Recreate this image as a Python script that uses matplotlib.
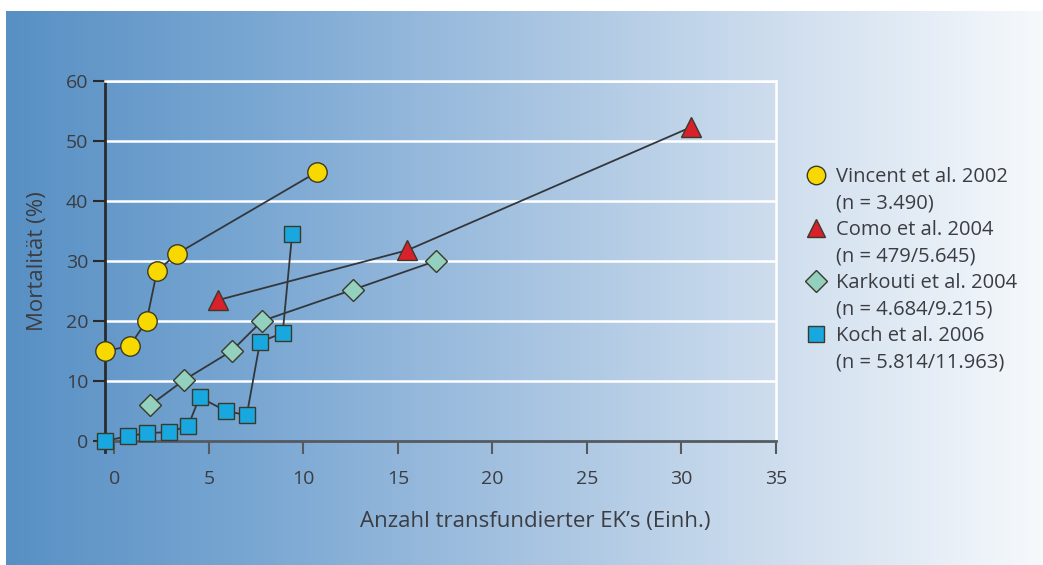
import numpy as np
import matplotlib.pyplot as plt
from matplotlib.colors import LinearSegmentedColormap
from matplotlib.lines import Line2D

plt.rcParams['font.family'] = ['Open Sans', 'DejaVu Sans']

# data
vincent_x = [-0.5, 0.8, 1.7, 2.25, 3.3, 10.7]
vincent_y = [15, 15.8, 20, 28.3, 31.2, 44.8]

como_x = [5.5, 15.5, 30.5]
como_y = [23.5, 31.8, 52.3]

karkouti_x = [1.9, 3.7, 6.2, 7.8, 12.6, 17.0]
karkouti_y = [6, 10.2, 15, 20, 25.2, 30]

koch_x = [-0.5, 0.7, 1.7, 2.9, 3.9, 4.5, 5.9, 7.0, 7.7, 8.9, 9.4]
koch_y = [0, 0.8, 1.3, 1.5, 2.5, 7.3, 5.0, 4.3, 16.5, 18, 34.5]

labels = ['Vincent et al. 2002', 'Como et al. 2004',
          'Karkouti et al. 2004', 'Koch et al. 2006']
n_labels = ['(n = 3.490)', '(n = 479/5.645)',
            '(n = 4.684/9.215)', '(n = 5.814/11.963)']

xticks = [0, 5, 10, 15, 20, 25, 30, 35]
yticks = [0, 10, 20, 30, 40, 50, 60]

text_col = '#3b3d42'
line_col = '#33373b'

fig = plt.figure(figsize=(10.43, 5.65), dpi=100)
fig.patch.set_facecolor('white')

# gradient background panel
bg = fig.add_axes([6 / 1043, 0, 1 - 6 / 1043, 554 / 565])
cmap = LinearSegmentedColormap.from_list(
    'bg', ['#5890c4', '#7ba8d3', '#a6c3e1', '#cfdeee', '#f6f9fc'])
bg.imshow(np.linspace(0, 1, 256)[None, :], aspect='auto', cmap=cmap,
          extent=[0, 1, 0, 1])
bg.set_axis_off()

ax = fig.add_axes([105 / 1043, (565 - 441) / 565, (776 - 105) / 1043, 360 / 565])
ax.patch.set_alpha(0)

ax.set_xlim(-0.5, 35)
ax.set_ylim(0, 60)

for y in yticks[1:]:
    ax.axhline(y, color='white', lw=1.8, zorder=1)

mk = dict(markeredgecolor='#3a3a2a', markeredgewidth=1.0, color=line_col,
          lw=1.3, clip_on=False, zorder=3)
h1, = ax.plot(vincent_x, vincent_y, 'o', ls='-', markersize=14,
              markerfacecolor='#f7d900', **mk)
h2, = ax.plot(como_x, como_y, '^', ls='-', markersize=14,
              markerfacecolor='#d9202b', **mk)
h3, = ax.plot(karkouti_x, karkouti_y, 'D', ls='-', markersize=11.5,
              markerfacecolor='#93d0be', **mk)
h4, = ax.plot(koch_x, koch_y, 's', ls='-', markersize=12,
              markerfacecolor='#19a7df', **mk)

ax.spines['top'].set_color('white')
ax.spines['top'].set_linewidth(1.8)
ax.spines['right'].set_color('white')
ax.spines['right'].set_linewidth(1.8)
ax.spines['left'].set_color('#2a2a2a')
ax.spines['left'].set_linewidth(2.0)
ax.spines['left'].set_bounds(-1.8, 60)
ax.spines['bottom'].set_color('#555a60')
ax.spines['bottom'].set_linewidth(2.0)

ax.set_xticks(xticks)
ax.set_yticks(yticks)
ax.tick_params(axis='x', direction='out', length=9, width=1.5, color='#555a60',
               pad=12, labelsize=14, labelcolor=text_col)
ax.tick_params(axis='y', direction='out', length=9, width=1.5, color='#2a2a2a',
               pad=3, labelsize=14, labelcolor=text_col)

ax.set_xlabel("Anzahl transfundierter EK\u2019s (Einh.)", fontsize=16,
              color=text_col)
ax.xaxis.set_label_coords((535 - 105) / 671, -(522 - 441) / 360, transform=ax.transAxes)
ax.xaxis.label.set_va('center')
ax.set_ylabel('Mortalität (%)', fontsize=16, color=text_col)
ax.yaxis.set_label_coords(-(105 - 37) / 671, 0.5)
ax.yaxis.label.set_va('center')

# legend: marker next to study name, n on the line below
blank = Line2D([], [], ls='none', marker='none')
handles, texts = [], []
for h, lab, n in zip([h1, h2, h3, h4], labels, n_labels):
    proxy = Line2D([], [], ls='none', marker=h.get_marker(),
                   markersize=h.get_markersize() * 0.95,
                   markerfacecolor=h.get_markerfacecolor(),
                   markeredgecolor='#3a3a2a', markeredgewidth=1.0)
    handles += [proxy, blank]
    texts += [lab, n]
leg = fig.legend(handles, texts, loc='upper left',
                 bbox_to_anchor=(796 / 1043, 1 - 157 / 565),
                 frameon=False, fontsize=14.5, handlelength=1.0,
                 handletextpad=0.5, labelspacing=0.32, borderpad=0)
for t in leg.get_texts():
    t.set_color(text_col)

fig.savefig('out.png', dpi=100)
